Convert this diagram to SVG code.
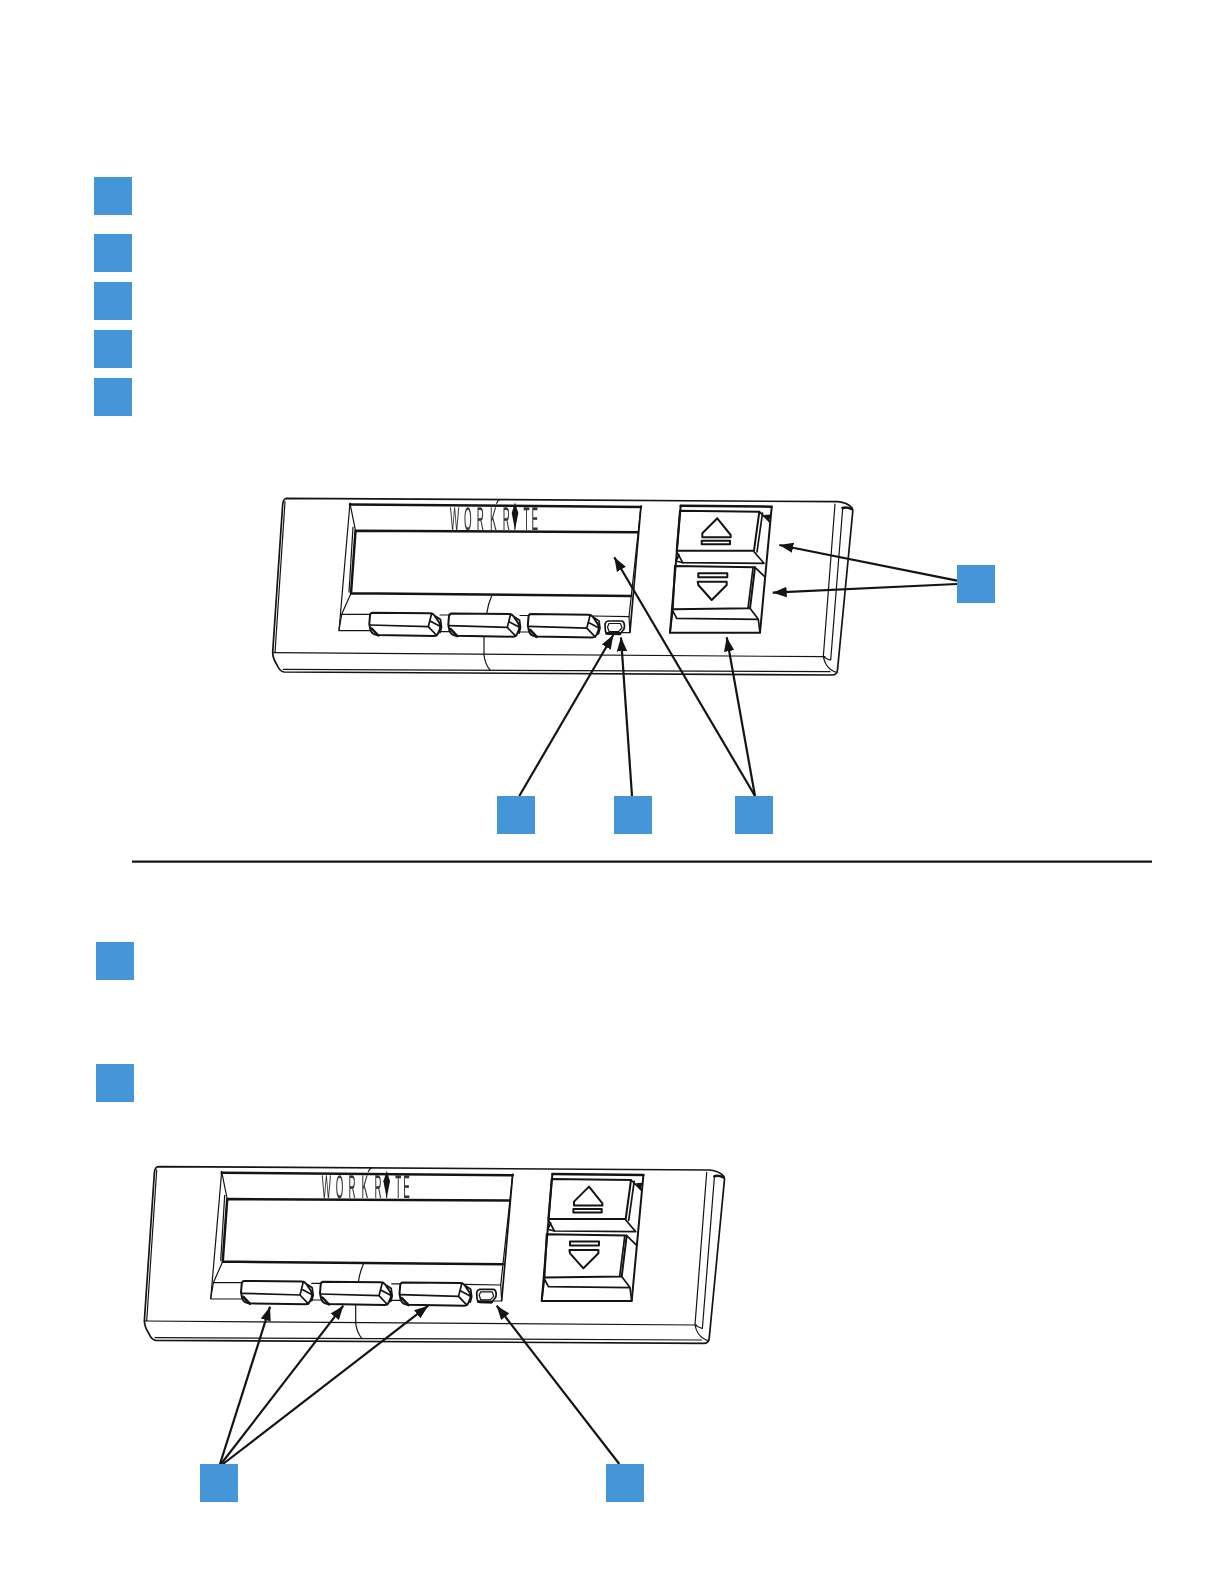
<svg xmlns="http://www.w3.org/2000/svg" xmlns:xlink="http://www.w3.org/1999/xlink" width="1224" height="1584" viewBox="0 0 1224 1584">
<style>
.sq{fill:#4596d8}
.l{fill:none;stroke:#141414;stroke-width:1.2;stroke-linejoin:round;stroke-linecap:round}
.m{fill:none;stroke:#141414;stroke-width:1.7;stroke-linejoin:round;stroke-linecap:round}
.b{fill:none;stroke:#141414;stroke-width:2;stroke-linejoin:round;stroke-linecap:round}
.t{fill:none;stroke:#141414;stroke-width:2.5;stroke-linejoin:round;stroke-linecap:round}
.k{fill:#141414;stroke:none}
.c{fill:none;stroke:#141414;stroke-width:2.2}
.logo{font-family:"Liberation Sans",Arial,sans-serif;font-size:32.6px;fill:#333;stroke:#333;stroke-width:.2;text-rendering:geometricPrecision}
</style>
<defs>
<filter id="plain" x="-5%" y="-20%" width="110%" height="140%" color-interpolation-filters="sRGB"><feOffset dx="0" dy="0"/></filter>
<marker id="ah" markerUnits="userSpaceOnUse" markerWidth="16" markerHeight="12" refX="14" refY="6" orient="auto"><path d="M0 0.8L14 6L0 11.2z" fill="#141414"/></marker>
<g id="btn">
<path class="b" d="M372.5 612.7L430 613.3Q433 613.5 434.5 615.5L439.5 623Q440.8 626 440 629L438 633.5Q436.7 636 434 636L377 635Q372 634.5 370.5 630L369.3 624L370 615.5Q370.3 612.7 372.5 612.7z"/>
<path class="m" d="M370 625L428.3 626.7L431.7 613.3M428.3 626.7L436.7 635.5M431 621.5L439.5 626"/>
<path class="t" d="M371.7 628.5L378.3 635.5"/>
<path class="m" d="M436 616.5L440.5 619.5L441.5 627L440 632.5"/>
</g>
<g id="device">
<path class="m" d="M286.7 498.3L838 501.7Q847 502.5 851.7 507.5Q853 509 852.7 512L837.5 670Q837 675 832 675L284 672Q280 671.5 277 665Q272.5 658 272.7 652L282.7 504Q283.5 498.5 286.7 498.3z"/>
<path class="l" d="M285 501.7L275 652.7M272.7 652.7L825 656.7M283.3 669.3L830 671.7M835 504L823.3 656.7Q825 665 830 669Q834 672 836 672M842.7 508.3L830.7 660Q829 660 823.3 656.7"/>
<path class="t" d="M842.5 508Q846 506.5 851.7 509"/>
<path class="l" d="M496.7 503.3Q498 500 500 499.5M491.7 596Q488 604 486.7 613.3M484 636.7L484 655Q485 664 490 670"/>
<!-- display -->
<path class="t" d="M350 504.5L641 507"/>
<path class="l" d="M350 503L339 630.7L370 630.7M641 506L629 616.7L630 632.7L606.7 632.7M440 631.7L450 631.7M520 632L528 632"/>
<path class="m" d="M641 506L630 632"/>
<path class="t" d="M355.5 530.7L637.3 532.3M351 593.3L631 596M355.5 531L351 593.5"/>
<path class="l" d="M350 503.5L355.5 530.7M353 527L349 592M351 593.3L341.7 614.3L339 630M341.7 614.3L370 614.3M440 615L450 615M520 615.5L528 615.5M593 616L629 616.7"/>
<use xlink:href="#btn" href="#btn"/>
<use xlink:href="#btn" href="#btn" x="79" y="0.7"/>
<use xlink:href="#btn" href="#btn" x="158.5" y="1.4"/>
<!-- LED -->
<path class="m" d="M608 621L622 621Q624.5 622 624.5 626L624 629L620 634L608 634Q605.5 633 605.3 630L605 624Q605.5 621.5 608 621z"/>
<path class="l" d="M609 623.5L620.5 623.5L622 628L618.5 631.5L609 631.5L607.5 627z"/>
<path class="t" d="M606.5 633.5L620 634"/>
<!-- logo -->
<g filter="url(#plain)"><text class="logo" transform="translate(450 530) scale(.3 1)" x="0 46.7 89 133 176 212 245 272">WORKRITE</text></g>
<path class="k" d="M515 502.5L518.3 513L515 530L511.7 513z"/>
<!-- rocker -->
<path class="t" d="M680.7 505.7L771.7 506.7"/>
<path class="b" d="M771.7 506.7L760 632.7L670 632.7L680.7 505.7"/>
<path class="b" d="M680 510.7L759.3 511.7L754 550.7L676.7 550.7z"/>
<path class="m" d="M759.3 511.7L770 522M762.5 513L757 552M676.7 551.7L682.7 562.7L764 563.3L754 551.7M755 567.3L765 577"/>
<path class="k" d="M764 515L770.5 514.5L769 522.5z"/>
<path class="b" d="M675 566L755 567.3L750 608.3L672.7 609.3z"/>
<path class="m" d="M753 568L748 608M672.7 610.7L676.7 618.3L758.3 619.3L750 608.3M670 632.7L672.7 610.7M758.3 619.3L760 632.7M679 555L676 561L682.7 562.7"/>
<path class="b" d="M717.3 518.3L730.7 535L730.7 537.3L702.3 537.3L702.3 533.3z"/>
<path class="b" d="M701.7 540.7L730 540.7L730 544.3L701.7 544.3z"/>
<path class="b" d="M698.3 573.3L727.3 573.3L727.3 577.3L698.3 577.3z"/>
<path class="b" d="M697.7 581.7L726.7 581.7L726.7 585L711.7 600L698.3 585z"/>
</g>
</defs>
<g id="device-top"><use xlink:href="#device" href="#device"/></g>
<g id="device-bottom"><use xlink:href="#device" href="#device" x="-128.3" y="668.3"/></g>
<g id="rule"><path d="M132 861.7H1152" stroke="#141414" stroke-width="2.2" fill="none"/></g>
<g id="connectors">
<path class="c" marker-end="url(#ah)" d="M957 580.7L779.3 545"/>
<path class="c" marker-end="url(#ah)" d="M957 584L772.7 592.7"/>
<path class="c" marker-end="url(#ah)" d="M519.3 796L613.3 635"/>
<path class="c" marker-end="url(#ah)" d="M632 796L621 637.3"/>
<path class="c" marker-end="url(#ah)" d="M755 796L614.3 557.3"/>
<path class="c" marker-end="url(#ah)" d="M755 796L726.7 637.3"/>
<path class="c" marker-end="url(#ah)" d="M220 1464L270 1306.7"/>
<path class="c" marker-end="url(#ah)" d="M221 1464L343.3 1305.7"/>
<path class="c" marker-end="url(#ah)" d="M223 1464L428.3 1305.7"/>
<path class="c" marker-end="url(#ah)" d="M619.3 1464L496.7 1305.7"/>
</g>
<g id="node-1"><rect class="sq" x="94" y="177" width="38" height="38"/></g>
<g id="node-2"><rect class="sq" x="94" y="234" width="38" height="38"/></g>
<g id="node-3"><rect class="sq" x="94" y="282" width="38" height="38"/></g>
<g id="node-4"><rect class="sq" x="94" y="330" width="38" height="38"/></g>
<g id="node-5"><rect class="sq" x="94" y="378" width="38" height="38"/></g>
<g id="node-6"><rect class="sq" x="957" y="565" width="38" height="38"/></g>
<g id="node-7"><rect class="sq" x="497" y="796" width="38" height="38"/></g>
<g id="node-8"><rect class="sq" x="614" y="796" width="38" height="38"/></g>
<g id="node-9"><rect class="sq" x="735" y="796" width="38" height="38"/></g>
<g id="node-10"><rect class="sq" x="96" y="942" width="38" height="38"/></g>
<g id="node-11"><rect class="sq" x="96" y="1064" width="38" height="38"/></g>
<g id="node-12"><rect class="sq" x="200" y="1464" width="38" height="38"/></g>
<g id="node-13"><rect class="sq" x="606" y="1464" width="38" height="38"/></g>
</svg>
